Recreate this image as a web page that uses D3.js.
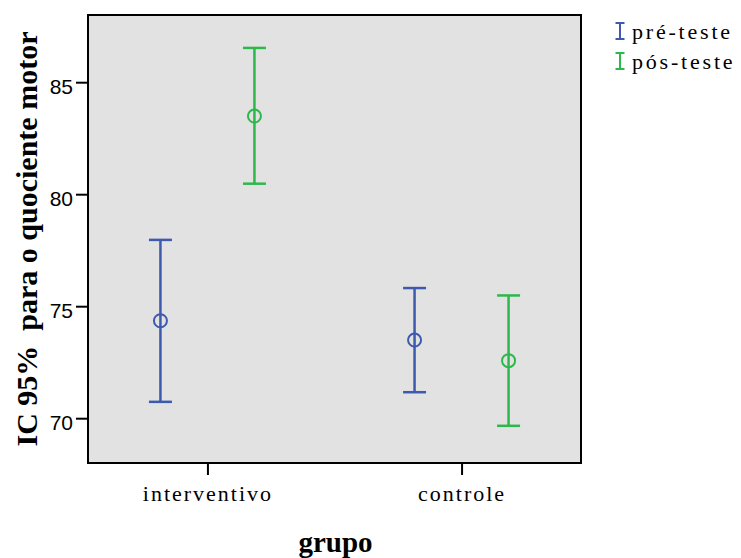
<!DOCTYPE html>
<html><head><meta charset="utf-8">
<script src="https://cdn.jsdelivr.net/npm/d3@7"></script>
<style>body{margin:0;background:#fff;} svg{display:block;}
.serif{font-family:"Liberation Serif","Times New Roman",serif;}
.sans{font-family:"Liberation Sans",Arial,sans-serif;}
</style>
</head><body>
<svg id="c" width="741" height="558"></svg>
<script>
const groups = ["interventivo", "controle"];
const seriesNames = ["pré-teste", "pós-teste"];
const seriesColors = ["#3d5aae", "#2db84b"];
// [lower, mean, upper] per group
const preTeste = [[70.73, 74.35, 77.96], [71.16, 73.49, 75.81]];
const posTeste = [[80.47, 83.49, 86.53], [69.66, 72.57, 75.48]];
const yTicks = [70, 75, 80, 85];
const yLabel = "IC 95%\u00a0 para o quociente motor";
const xLabel = "grupo";

const svg = d3.select("#c");
const m = {l: 88, r: 581, t: 15, b: 463};
const y = d3.scaleLinear().domain([68, 88]).range([m.b, m.t]);
const x = d3.scalePoint().domain(groups).range([m.l, m.r]).padding(0.47);
const sub = d3.scalePoint().domain(seriesNames).range([-47, 47]);

svg.append("rect").attr("x", m.l).attr("y", m.t).attr("width", m.r - m.l).attr("height", m.b - m.t)
  .attr("fill", "#e2e2e2");

const series = [preTeste, posTeste];
series.forEach((data, si) => {
  const col = seriesColors[si];
  const g = svg.append("g");
  data.forEach((d, gi) => {
    const cx = x(groups[gi]) + sub(seriesNames[si]);
    g.append("line").attr("x1", cx).attr("x2", cx).attr("y1", y(d[0])).attr("y2", y(d[2]))
      .attr("stroke", col).attr("stroke-width", 2.5);
    [d[0], d[2]].forEach(v => g.append("line").attr("x1", cx - 11.5).attr("x2", cx + 11.5)
      .attr("y1", y(v)).attr("y2", y(v)).attr("stroke", col).attr("stroke-width", 2.5));
    g.append("circle").attr("cx", cx).attr("cy", y(d[1])).attr("r", 6.5)
      .attr("fill", "none").attr("stroke", col).attr("stroke-width", 2);
  });
});

// frame
svg.append("rect").attr("x", m.l).attr("y", m.t).attr("width", m.r - m.l).attr("height", m.b - m.t)
  .attr("fill", "none").attr("stroke", "#000").attr("stroke-width", 2);

// y axis
const ya = svg.append("g").attr("transform", `translate(${m.l},0)`)
  .call(d3.axisLeft(y).tickValues(yTicks).tickSize(12).tickPadding(3));
ya.attr("font-family", null).attr("font-size", null);
ya.select(".domain").remove();
ya.selectAll(".tick line").attr("stroke", "#000").attr("stroke-width", 2);
ya.selectAll(".tick text").attr("class", "sans")
  .attr("font-size", 21).attr("fill", "#000").attr("dy", "0.55em");

// x axis
const xa = svg.append("g").attr("transform", `translate(0,${m.b})`)
  .call(d3.axisBottom(x).tickSize(12).tickPadding(10));
xa.attr("font-family", null).attr("font-size", null);
xa.select(".domain").remove();
xa.selectAll(".tick line").attr("stroke", "#000").attr("stroke-width", 2);
xa.selectAll(".tick text").attr("class", "serif")
  .attr("font-size", 22).attr("letter-spacing", "2px").attr("fill", "#000");

// axis titles
svg.append("text").attr("class", "serif").attr("x", (m.l + m.r) / 2 + 1).attr("y", 552).attr("text-anchor", "middle")
  .attr("font-weight", "bold").attr("font-size", 29).text(xLabel);
svg.append("text").attr("class", "serif").attr("transform", "translate(37,239) rotate(-90)").attr("text-anchor", "middle")
  .attr("font-weight", "bold").attr("font-size", 30).text(yLabel);

// legend
const lg = svg.append("g");
seriesNames.forEach((n, i) => {
  const yy = 39 + i * 30;
  const col = seriesColors[i];
  lg.append("line").attr("x1", 620).attr("x2", 620).attr("y1", yy - 16).attr("y2", yy).attr("stroke", col).attr("stroke-width", 2);
  lg.append("line").attr("x1", 615.5).attr("x2", 624.5).attr("y1", yy - 16).attr("y2", yy - 16).attr("stroke", col).attr("stroke-width", 2);
  lg.append("line").attr("x1", 615.5).attr("x2", 624.5).attr("y1", yy).attr("y2", yy).attr("stroke", col).attr("stroke-width", 2);
  lg.append("text").attr("class", "serif").attr("x", 632).attr("y", yy)
    .attr("font-size", 22).attr("letter-spacing", "2.8px").attr("fill", "#000").text(n);
});
</script>
</body></html>
